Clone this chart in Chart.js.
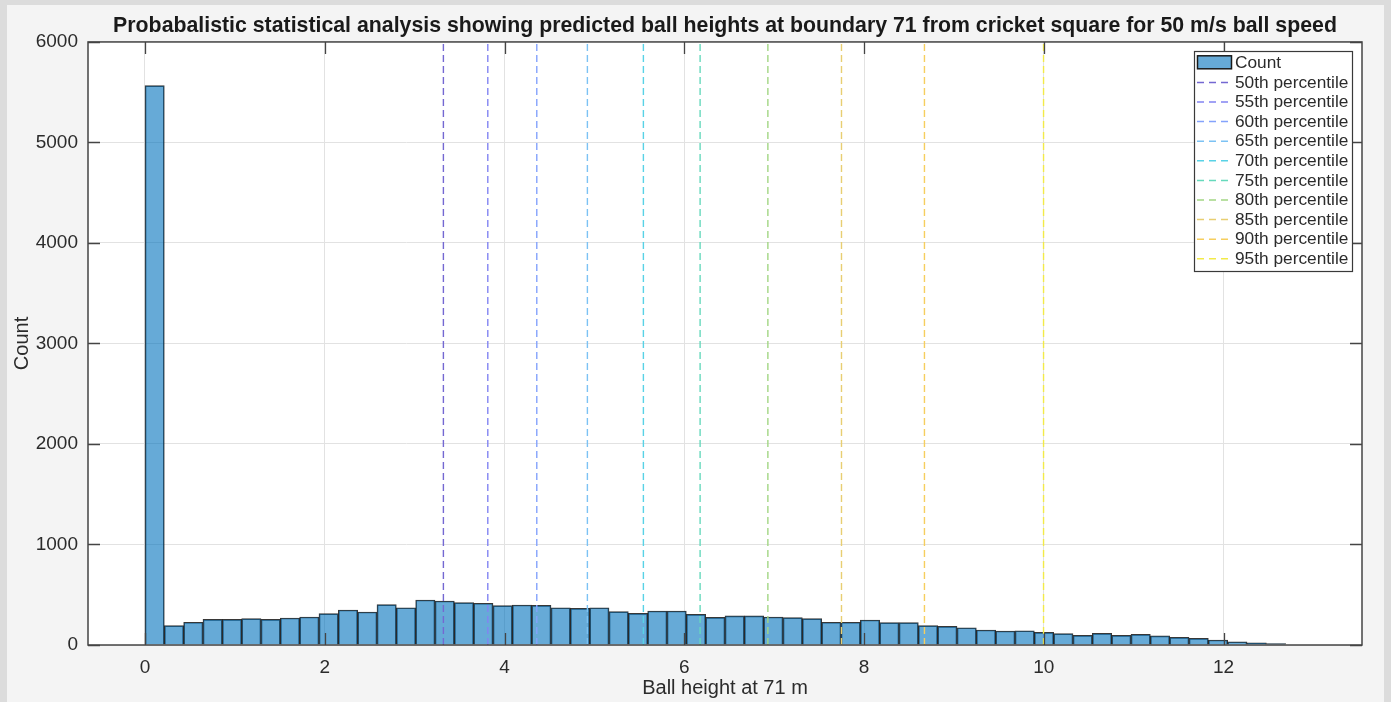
<!DOCTYPE html>
<html>
<head>
<meta charset="utf-8">
<script src="https://cdn.jsdelivr.net/npm/chart.js@4.4.1/dist/chart.umd.min.js"></script>
<style>
  html, body { margin: 0; padding: 0; background: #dcdcdc; }
  #myChart { display: block; }
</style>
</head>
<body>
<canvas id="myChart" width="1391" height="702"></canvas>
<script>
// histogram bins (start at 0, equal width)
const binStart = 0;
const binWidth = 0.2151;
const binCounts = [
  5565, 192, 226, 255, 255, 262, 255, 269, 279, 312, 348, 328, 401, 371, 448,
  438, 421, 415, 391, 398, 395, 371, 365, 371, 332, 315, 338, 338, 305, 275,
  289, 289, 279, 272, 262, 226, 226, 249, 222, 222, 192, 186, 172, 149, 139,
  142, 126, 113, 96, 116, 96, 106, 90, 76, 66, 50, 32, 22, 14,
];

// percentile markers
const percentileLabels = [
  "50th percentile", "55th percentile", "60th percentile", "65th percentile",
  "70th percentile", "75th percentile", "80th percentile", "85th percentile",
  "90th percentile", "95th percentile",
];
const percentileValues = [3.32, 3.814, 4.359, 4.922, 5.545, 6.176, 6.93, 7.749, 8.672, 9.997];
const percentileColors = [
  "#7468d2", "#8284f2", "#84a2fc", "#7cc2f4", "#58d2e6",
  "#66d9bc", "#a2d684", "#e8ce72", "#f6ce5e", "#f2ea48",
];

const xTicks = [0, 2, 4, 6, 8, 10, 12];
const yTicks = [0, 1000, 2000, 3000, 4000, 5000, 6000];

const barFill = "rgba(0, 114, 189, 0.6)";
const axisColor = "#444444";
const textColor = "#2b2b2b";
const dash = [7, 4];

Chart.defaults.font.family = "'Liberation Sans', Arial, sans-serif";
Chart.defaults.color = textColor;

let datasets = [
  {
    type: "bar",
    label: "Count",
    data: binCounts.map((c, i) => ({ x: binStart + (i + 0.5) * binWidth, y: c })),
    backgroundColor: barFill,
    borderColor: "rgba(20, 20, 20, 0.85)",
    borderWidth: 1,
    borderSkipped: "bottom",
    barPercentage: 1,
    categoryPercentage: 1,
    grouped: false,
    order: 2,
  },
];
percentileValues.forEach((v, i) => {
  datasets.push({
    type: "line",
    label: percentileLabels[i],
    data: [{ x: v, y: 0 }, { x: v, y: 6000 }],
    borderColor: percentileColors[i],
    borderWidth: 1.4,
    borderDash: dash,
    pointRadius: 0,
    fill: false,
    order: 1,
  });
});

// MATLAB style frame: grey panel, white axes, inward ticks, legend box
const matlabFrame = {
  id: "matlabFrame",
  beforeDraw(chart) {
    const ctx = chart.ctx;
    const a = chart.chartArea;
    ctx.save();
    ctx.fillStyle = "#dcdcdc";
    ctx.fillRect(0, 0, chart.width, chart.height);
    ctx.fillStyle = "#f4f4f4";
    ctx.fillRect(7, 5, chart.width - 14, chart.height - 5);
    ctx.fillStyle = "#ffffff";
    ctx.fillRect(a.left, a.top, a.right - a.left, a.bottom - a.top);
    ctx.restore();
  },
  afterDatasetsDraw(chart) {
    const ctx = chart.ctx;
    const a = chart.chartArea;
    const xs = chart.scales.x;
    const ys = chart.scales.y;
    const len = 12;
    ctx.save();
    ctx.strokeStyle = axisColor;
    ctx.lineWidth = 1.3;
    ctx.beginPath();
    xTicks.forEach((t) => {
      const px = Math.round(xs.getPixelForValue(t)) + 0.5;
      ctx.moveTo(px, a.bottom);
      ctx.lineTo(px, a.bottom - len);
      ctx.moveTo(px, a.top);
      ctx.lineTo(px, a.top + len);
    });
    yTicks.forEach((t) => {
      const py = Math.round(ys.getPixelForValue(t)) + 0.5;
      ctx.moveTo(a.left, py);
      ctx.lineTo(a.left + len, py);
      ctx.moveTo(a.right, py);
      ctx.lineTo(a.right - len, py);
    });
    ctx.stroke();
    ctx.lineWidth = 1.5;
    ctx.strokeRect(a.left, a.top, a.right - a.left, a.bottom - a.top);
    ctx.restore();
  },
  afterDraw(chart) {
    const ctx = chart.ctx;
    const box = { left: 1194, top: 51, right: 1352, bottom: 271 };
    const rowTop = 62.3;
    const rowStep = 19.6;
    ctx.save();
    ctx.fillStyle = "#ffffff";
    ctx.fillRect(box.left, box.top, box.right - box.left, box.bottom - box.top);
    ctx.strokeStyle = "#3a3a3a";
    ctx.lineWidth = 1.2;
    ctx.strokeRect(box.left + 0.5, box.top + 0.5, box.right - box.left, box.bottom - box.top);
    ctx.font = "17.3px 'Liberation Sans', Arial, sans-serif";
    ctx.textBaseline = "middle";
    chart.data.datasets.forEach((ds, i) => {
      const y = rowTop + i * rowStep;
      if (ds.type === "bar") {
        ctx.fillStyle = barFill;
        ctx.fillRect(1197.5, y - 6.5, 34, 13);
        ctx.strokeStyle = "#1a1a1a";
        ctx.lineWidth = 1.5;
        ctx.setLineDash([]);
        ctx.strokeRect(1197.5, y - 6.5, 34, 13);
      } else {
        ctx.strokeStyle = ds.borderColor;
        ctx.lineWidth = 1.5;
        ctx.setLineDash([7, 5]);
        ctx.beginPath();
        ctx.moveTo(1197, y + 0.5);
        ctx.lineTo(1232, y + 0.5);
        ctx.stroke();
      }
      ctx.setLineDash([]);
      ctx.fillStyle = textColor;
      ctx.fillText(ds.label, 1235, y + 1);
    });
    ctx.restore();
  },
};

let ctx = document.getElementById("myChart").getContext("2d");
let histChart = new Chart(ctx, {
  type: "bar",
  data: { datasets: datasets },
  plugins: [matlabFrame],
  options: {
    responsive: false,
    animation: false,
    devicePixelRatio: 1,
    layout: { padding: { left: 0, right: 29, top: 0, bottom: 0 } },
    plugins: {
      legend: { display: false },
      tooltip: { enabled: false },
      title: {
        display: true,
        fullSize: false,
        text: "Probabalistic statistical analysis showing predicted ball heights at boundary 71 from cricket square for 50 m/s ball speed",
        color: "#1a1a1a",
        font: { size: 21.3, weight: "bold" },
        padding: { top: 13, bottom: 3.4 },
      },
    },
    scales: {
      x: {
        type: "linear",
        min: -0.634,
        max: 13.54,
        offset: false,
        grid: { color: "#e2e2e2", drawTicks: false, offset: false },
        border: { display: false },
        ticks: { font: { size: 19 }, color: textColor, padding: 11 },
        afterBuildTicks: (s) => { s.ticks = xTicks.map((v) => ({ value: v })); },
        afterFit: (s) => { s.height = 57; },
        title: {
          display: true,
          text: "Ball height at 71 m",
          font: { size: 20 },
          color: textColor,
          padding: { top: 0, bottom: 2 },
        },
      },
      y: {
        min: 0,
        max: 6000,
        grid: { color: "#e2e2e2", drawTicks: false },
        border: { display: false },
        ticks: {
          font: { size: 19 },
          color: textColor,
          padding: 10,
          callback: (v) => String(v),
        },
        afterBuildTicks: (s) => { s.ticks = yTicks.map((v) => ({ value: v })); },
        afterFit: (s) => { s.width = 88; },
        title: {
          display: true,
          text: "Count",
          font: { size: 20 },
          color: textColor,
          padding: { top: 10, bottom: 0 },
        },
      },
    },
  },
});
</script>
</body>
</html>
